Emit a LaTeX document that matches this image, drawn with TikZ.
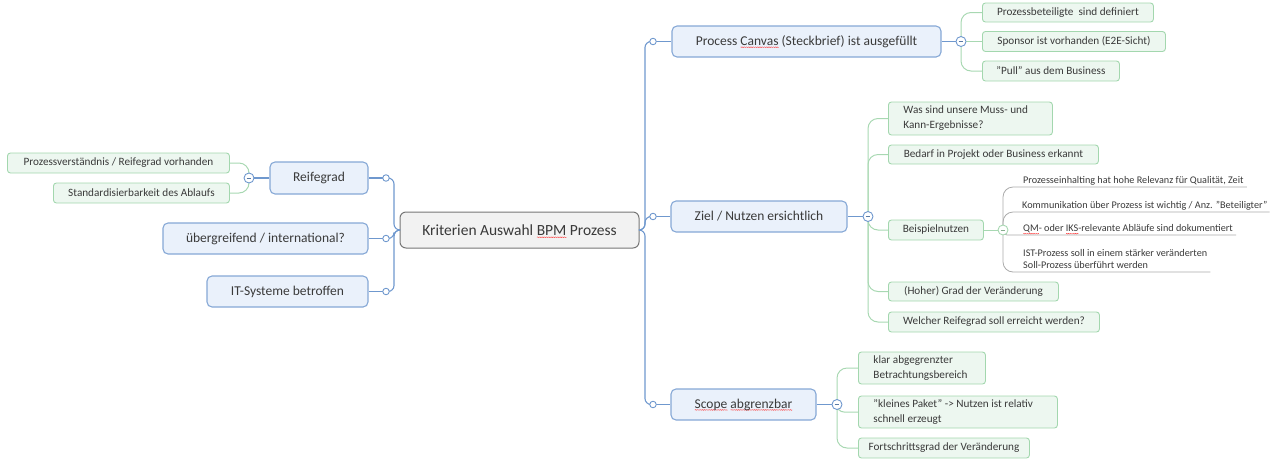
\documentclass[tikz,border=0pt]{standalone}
\usepackage{fontspec}
\setmainfont{Carlito}
\usetikzlibrary{decorations.pathmorphing}
\definecolor{txtc}{HTML}{3A3A3A}
\definecolor{bfill}{HTML}{EAF1FB}
\definecolor{bborder}{HTML}{86A8D6}
\definecolor{blinec}{HTML}{6F98CE}
\definecolor{gfill}{HTML}{EDF7F0}
\definecolor{gborder}{HTML}{A3D7AE}
\definecolor{glinec}{HTML}{A8D8B2}
\definecolor{cfill}{HTML}{F2F2F2}
\definecolor{cborder}{HTML}{777777}
\definecolor{grayc}{HTML}{ABABAB}
\newsavebox{\splbox}
\newcommand\spl[1]{\sbox{\splbox}{#1}\rlap{\raisebox{-1.9pt}[0pt][0pt]{\tikz[baseline=0pt]\draw[sharp corners, red!85, line width=0.3pt, decorate, decoration={snake, amplitude=0.4pt, segment length=1.8pt}] (0pt,0pt) -- (\wd\splbox,0pt);}}\usebox{\splbox}}
\tikzset{
  centralbox/.style={draw=cborder, fill=cfill, line width=1pt, rounded corners=6pt, text=txtc,
    font=\fontsize{15.5}{18}\selectfont, inner sep=0pt},
  bluebox/.style={draw=bborder, fill=bfill, line width=1.1pt, rounded corners=5pt, text=txtc,
    font=\fontsize{13.5}{16}\selectfont, inner sep=0pt},
  greenbox/.style={draw=gborder, fill=gfill, line width=0.9pt, rounded corners=3pt, text=txtc,
    font=\fontsize{11.2}{15}\selectfont, inner ysep=0pt, inner xsep=0pt, anchor=west},
  greenbox2/.style={greenbox, inner xsep=15pt, align=flush left},
  graytext/.style={text=txtc, font=\fontsize{10.2}{12.5}\selectfont, inner xsep=3pt, inner ysep=3pt,
    anchor=south west, align=flush left},
  blueconn/.style={draw=blinec, line width=1.1pt},
  greenconn/.style={draw=glinec, line width=1pt},
  grayconn/.style={draw=grayc, line width=0.8pt},
  smallcirc/.style={circle, draw=blinec, fill=white, line width=0.9pt, minimum size=6.5pt, inner sep=0pt},
  minuscirc/.style={circle, draw=#1, fill=white, line width=0.9pt, minimum size=10pt, inner sep=0pt,
    path picture={\draw[#1!80!black, line width=0.9pt] ([xshift=-2.3pt]path picture bounding box.center) -- ([xshift=2.3pt]path picture bounding box.center);}},
}
\begin{document}
\begin{tikzpicture}[x=1pt,y=-1pt]
\useasboundingbox (0,0) rectangle (1270,459);

% ---------- main nodes ----------
\node[centralbox, minimum width=239pt, minimum height=36pt] (central) at (519.5,230) {Kriterien Auswahl \spl{BPM} Prozess};

\node[bluebox, minimum width=98pt, minimum height=32pt] (reife) at (319,178) {Reifegrad};
\node[bluebox, minimum width=205pt, minimum height=31pt] (uber) at (265.5,238.5) {übergreifend / international?};
\node[bluebox, minimum width=161pt, minimum height=31pt] (its) at (287.5,291.5) {IT-Systeme betroffen};

\node[bluebox, minimum width=269pt, minimum height=31pt] (pc) at (806.5,41.5) {Process \spl{Canvas} (Steckbrief) ist ausgefüllt};
\node[bluebox, minimum width=176pt, minimum height=31pt] (ziel) at (759,216.5) {Ziel / Nutzen ersichtlich};
\node[bluebox, minimum width=145pt, minimum height=31pt] (scope) at (743.5,404.5) {\spl{Scope} \spl{abgrenzbar}};

% ---------- green leaf nodes ----------
\node[greenbox, minimum width=222pt, minimum height=20pt] (l1) at (7,163) {Prozessverständnis / Reifegrad vorhanden};
\node[greenbox, minimum width=176pt, minimum height=20pt] (l2) at (53,193) {Standardisierbarkeit des Ablaufs};

\node[greenbox, minimum width=171pt, minimum height=19pt] (p1) at (982,12.5) {Prozessbeteiligte\ \ sind definiert};
\node[greenbox, minimum width=183pt, minimum height=20pt] (p2) at (982,41.5) {Sponsor ist vorhanden (E2E-Sicht)};
\node[greenbox, minimum width=137pt, minimum height=20pt] (p3) at (982,71) {"Pull" aus dem Business};

\node[greenbox2, text width=134pt, minimum height=33pt] (z1) at (888,118.5) {Was sind unsere Muss- und\\Kann-Ergebnisse?};
\node[greenbox, minimum width=210pt, minimum height=19pt] (z2) at (888,154.5) {Bedarf in Projekt oder Business erkannt};
\node[greenbox, minimum width=95pt, minimum height=20pt] (z3) at (888,230) {Beispielnutzen};
\node[greenbox, minimum width=170pt, minimum height=19pt] (z4) at (888,291.5) {(Hoher) Grad der Veränderung};
\node[greenbox, minimum width=211pt, minimum height=20pt] (z5) at (888,322) {Welcher Reifegrad soll erreicht werden?};

\node[greenbox2, text width=97pt, minimum height=32pt] (s1) at (858,368) {klar abgegrenzter\\Betrachtungsbereich};
\node[greenbox2, text width=169pt, minimum height=32pt] (s2) at (858,412) {"kleines Paket" -> Nutzen ist relativ\\schnell erzeugt};
\node[greenbox, minimum width=171pt, minimum height=20pt] (s3) at (858,448) {Fortschrittsgrad der Veränderung};

% ---------- gray sub-leaf texts ----------
\node[graytext, text depth=0pt] (g1) at (1020,187) {Prozesseinhalting hat hohe Relevanz für Qualität, Zeit};
\node[graytext, text depth=0pt, inner xsep=2pt] (g2) at (1020,212) {Kommunikation über Prozess ist wichtig / Anz. "Beteiligter"};
\node[graytext, text depth=0pt] (g3) at (1020,235) {\spl{QM}- oder \spl{IKS}-relevante Abläufe sind dokumentiert};
\node[graytext] (g4) at (1020,272) {IST-Prozess soll in einem stärker veränderten\\Soll-Prozess überführt werden};

% ---------- junction coordinates ----------
\coordinate (rb) at (645,230);
\coordinate (lb) at (394,230);
\coordinate (pcc) at (653,41.5);
\coordinate (zc) at (653,216.5);
\coordinate (sc) at (653,404.5);
\coordinate (rc) at (386,178);
\coordinate (uc) at (386,238.5);
\coordinate (ic) at (386,291.5);
\coordinate (pcm) at (961,41.5);
\coordinate (zm) at (868,216.5);
\coordinate (sm) at (837,404.5);
\coordinate (rm) at (249,178);
\coordinate (bm) at (1003,230);

% ---------- blue connectors ----------
\draw[blueconn, rounded corners=6pt] (central.east) -- (rb) |- (pcc);
\draw[blueconn, rounded corners=6pt] (central.east) -- (rb) |- (zc);
\draw[blueconn, rounded corners=6pt] (central.east) -- (rb) |- (sc);
\draw[blueconn] (pcc) -- (pc.west);
\draw[blueconn] (zc) -- (ziel.west);
\draw[blueconn] (sc) -- (scope.west);

\draw[blueconn, rounded corners=6pt] (central.west) -- (lb) |- (rc);
\draw[blueconn, rounded corners=6pt] (central.west) -- (lb) |- (uc);
\draw[blueconn, rounded corners=6pt] (central.west) -- (lb) |- (ic);
\draw[blueconn] (rc) -- (reife.east);
\draw[blueconn] (uc) -- (uber.east);
\draw[blueconn] (ic) -- (its.east);

\draw[blueconn] (pc.east) -- (pcm);
\draw[blueconn] (ziel.east) -- (zm);
\draw[blueconn] (scope.east) -- (sm);
\draw[blueconn] (reife.west) -- (rm);

% ---------- green connectors ----------
\draw[greenconn, rounded corners=10pt] (pcm) |- (p1.west);
\draw[greenconn] (pcm) -- (p2.west);
\draw[greenconn, rounded corners=10pt] (pcm) |- (p3.west);

\draw[greenconn, rounded corners=10pt] (zm) |- (z1.west);
\draw[greenconn, rounded corners=10pt] (zm) |- (z2.west);
\draw[greenconn, rounded corners=10pt] (zm) |- (z3.west);
\draw[greenconn, rounded corners=10pt] (zm) |- (z4.west);
\draw[greenconn, rounded corners=10pt] (zm) |- (z5.west);

\draw[greenconn, rounded corners=10pt] (sm) |- (s1.west);
\draw[greenconn, rounded corners=7pt] (sm) |- (s2.west);
\draw[greenconn, rounded corners=10pt] (sm) |- (s3.west);

\draw[greenconn, rounded corners=10pt] (rm) |- (l1.east);
\draw[greenconn, rounded corners=10pt] (rm) |- (l2.east);

\draw[greenconn] (z3.east) -- (bm);

% ---------- gray connectors ----------
\draw[grayconn, rounded corners=10pt] (bm) |- (g1.south east);
\draw[grayconn, rounded corners=10pt] (bm) |- (g2.south east);
\draw[grayconn, rounded corners=4pt] (bm) |- (g3.south east);
\draw[grayconn, rounded corners=10pt] (bm) |- (g4.south east);

% ---------- circles ----------
\node[smallcirc] (pccn) at (pcc) {};
\node[smallcirc] (zcn) at (zc) {};
\node[smallcirc] (scn) at (sc) {};
\node[smallcirc] (rcn) at (rc) {};
\node[smallcirc] (ucn) at (uc) {};
\node[smallcirc] (icn) at (ic) {};
\node[minuscirc=blinec] (pcmn) at (pcm) {};
\node[minuscirc=blinec] (zmn) at (zm) {};
\node[minuscirc=blinec] (smn) at (sm) {};
\node[minuscirc=blinec] (rmn) at (rm) {};
\node[minuscirc=glinec] (bmn) at (bm) {};
\end{tikzpicture}
\end{document}
